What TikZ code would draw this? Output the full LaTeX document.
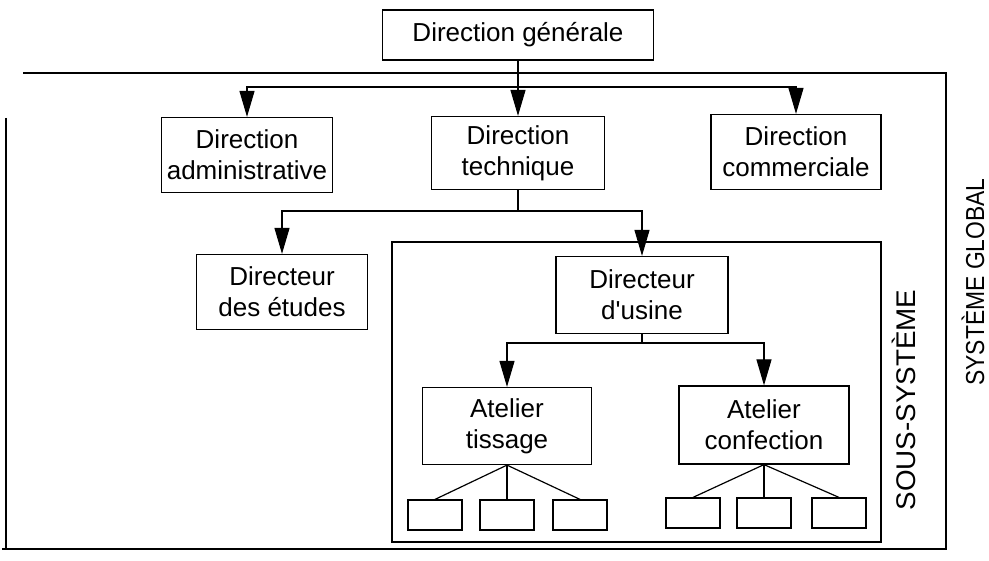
\documentclass[tikz,border=0pt]{standalone}
\usepackage{fontspec}
\setmainfont{Liberation Sans}
\usetikzlibrary{arrows.meta}
\tikzset{
  box/.style={draw, line width=1.2pt, rectangle, inner sep=0pt, align=center,
    font=\fontsize{26}{31}\selectfont, minimum width=171pt, minimum height=75pt},
  smallbox/.style={draw, line width=1.2pt, rectangle, inner sep=0pt, minimum width=54pt, minimum height=30pt},
  conn/.style={line width=1.2pt},
  arr/.style={line width=1.2pt, -{Triangle[length=26pt,width=15pt]}},
  frame/.style={line width=1.2pt},
  vlabel/.style={rotate=90, inner sep=0pt}
}
\begin{document}
\begin{tikzpicture}[x=1pt,y=-1pt]
\useasboundingbox (0,0) rectangle (989,561);
% frames
\draw[frame] (23,73) -- (946,73) -- (946,549) -- (2,549);
\draw[frame] (6,118) -- (6,549);
\draw[frame] (392,242) rectangle (881,542);
% nodes
\node[box, minimum width=271pt, minimum height=50pt] (gen) at (518,35) {Direction générale};
\node[box] (adm) at (247,155) {Direction\\administrative};
\node[box, minimum width=173pt, minimum height=73pt] (tech) at (518,153) {Direction\\technique};
\node[box, minimum width=170pt] (com) at (796,152) {Direction\\commerciale};
\node[box] (etu) at (282,292) {Directeur\\des études};
\node[box, minimum width=172pt, minimum height=77pt] (usi) at (642,295) {Directeur\\d\textquotesingle usine};
\node[box, minimum width=169pt, minimum height=77pt] (tis) at (507,426) {Atelier\\tissage};
\node[box, minimum width=170pt, minimum height=78pt] (con) at (764,425) {Atelier\\confection};
\node[smallbox] (t1) at (435,515) {};
\node[smallbox] (t2) at (507,515) {};
\node[smallbox] (t3) at (580,515) {};
\node[smallbox] (c1) at (693,513) {};
\node[smallbox] (c2) at (764,513) {};
\node[smallbox] (c3) at (839,513) {};
\node[vlabel, font=\fontsize{27}{30}\selectfont] (ss) at (904,400) {\scalebox{1.03}[1]{SOUS-SYSTÈME}};
\node[vlabel, font=\fontsize{26}{29}\selectfont] (sg) at (973,282) {\scalebox{0.88}[1]{SYSTÈME GLOBAL}};
% connectors
\coordinate (b1) at (518,87);
\coordinate (b2) at (518,211);
\coordinate (b3) at (642,343);
\draw[arr] (gen.south) -- (tech.north);
\draw[arr] (b1) -| (adm.north);
\draw[arr] (b1) -| (com.north);
\draw[conn] (tech.south) -- (b2);
\draw[arr] (b2) -| (etu.north);
\draw[arr] (b2) -| (usi.north);
\draw[conn] (usi.south) -- (b3);
\draw[arr] (b3) -| (tis.north);
\draw[arr] (b3) -| (con.north);
\draw[conn] (tis.south) -- (t1.north);
\draw[conn] (tis.south) -- (t2.north);
\draw[conn] (tis.south) -- (t3.north);
\draw[conn] (con.south) -- (c1.north);
\draw[conn] (con.south) -- (c2.north);
\draw[conn] (con.south) -- (c3.north);
\end{tikzpicture}
\end{document}
